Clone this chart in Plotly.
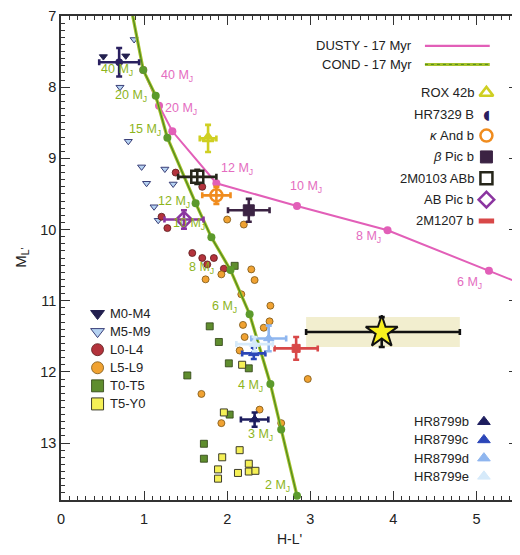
import plotly.graph_objects as go

# ---------------- data ----------------
# COND 17 Myr isochrone (first point lies above the plotted range)
cond_x = [0.83, 0.99, 1.14, 1.28, 1.62, 1.81, 2.04, 2.27, 2.52, 2.65, 2.84]
cond_y = [6.80, 7.76, 8.12, 8.71, 9.63, 10.11, 10.57, 11.19, 12.17, 12.81, 13.74]
cond_mass = [None, 40, 20, 15, 12, 10, 8, 6, 4, 3, 2]
cond_label_x = [0.67, 0.84, 1.01, 1.36, 1.54, 1.69, 1.97, 2.28, 2.40, 2.60]
cond_label_y = [7.76, 8.12, 8.60, 9.61, 9.92, 10.54, 11.09, 12.20, 12.88, 13.60]

# DUSTY 17 Myr isochrone
dusty_x = [0.83, 0.99, 1.18, 1.34, 1.87, 2.84, 3.93, 5.15, 5.75]
dusty_y = [6.80, 7.76, 8.26, 8.62, 9.35, 9.67, 10.01, 10.58, 10.86]
dusty_mass = [None, 40, 20, 15, 12, 10, 8, 6, None]
dusty_label_mass = [40, 20, 12, 10, 8, 6]
dusty_label_x = [1.40, 1.44, 2.12, 2.95, 3.70, 4.92]
dusty_label_y = [7.84, 8.30, 9.15, 9.40, 10.10, 10.75]

# field objects by spectral type
m0m4_x = [0.51, 0.78]
m0m4_y = [7.57, 7.56]
m5m9_x = [0.88, 0.71, 0.81, 0.97, 1.03, 1.25, 1.35, 1.12, 1.17]
m5m9_y = [7.33, 8.00, 8.76, 9.12, 9.35, 9.15, 9.36, 9.68, 9.87]
l0l4_x = [1.38, 1.70, 1.21, 1.28, 1.58, 1.70, 1.84, 1.76, 1.96]
l0l4_y = [9.20, 9.40, 9.82, 9.98, 10.33, 10.40, 10.40, 10.49, 10.55]
l5l9_x = [2.00, 2.20, 2.29, 1.74, 1.93, 2.33, 2.17, 2.52, 2.19, 2.51, 2.44, 2.21,
          2.15, 1.69, 2.97, 1.93, 2.39, 2.65]
l5l9_y = [9.86, 9.93, 10.56, 10.70, 10.63, 10.71, 10.91, 11.07, 11.34, 11.29, 11.38, 11.51,
          11.70, 12.31, 12.10, 12.72, 12.53, 12.72]
t0t5_x = [2.09, 1.79, 1.90, 1.52, 2.02, 2.26, 2.03, 1.72, 1.72]
t0t5_y = [10.51, 11.36, 11.58, 12.05, 11.88, 11.95, 12.60, 13.01, 13.22]
t5y0_x = [2.18, 1.96, 2.15, 1.94, 1.89, 1.89, 2.13, 2.26, 2.26, 2.34]
t5y0_y = [11.90, 12.57, 13.10, 13.20, 13.37, 13.50, 13.42, 13.29, 13.40, 13.39]

# named companions
obj_names = ["HR7329 B", "ROX 42b", "2M0103 ABb", "κ And b", "β Pic b", "AB Pic b",
             "2M1207 b", "HR8799b", "HR8799c", "HR8799d", "HR8799e"]
obj_x = [0.70, 1.77, 1.64, 1.87, 2.26, 1.48, 2.83, 2.33, 2.32, 2.50, 2.33]
obj_xerr = [0.24, 0.10, 0.23, 0.17, 0.25, 0.235, 0.26, 0.165, 0.14, 0.21, 0.22]
obj_y = [7.65, 8.72, 9.26, 9.52, 9.73, 9.86, 11.67, 12.67, 11.74, 11.53, 11.61]
obj_yerr = [0.20, 0.19, 0.10, 0.12, 0.16, 0.13, 0.16, 0.10, 0.08, 0.18, 0.10]

# new object (star)
star_x = [3.86]
star_xerr_minus = [0.91]
star_xerr_plus = [0.94]
star_y = [11.44]
star_yerr = [0.21]

# legend labels
field_names = ["M0-M4", "M5-M9", "L0-L4", "L5-L9", "T0-T5", "T5-Y0"]
line_names = ["DUSTY - 17 Myr", "COND - 17 Myr"]
named_legend = ["ROX 42b", "HR7329 B", "κ And b", "β Pic b", "2M0103 ABb", "AB Pic b", "2M1207 b"]
hr_legend = ["HR8799b", "HR8799c", "HR8799d", "HR8799e"]

# ---------------- styles ----------------
FONT = "Liberation Sans, Arial, Helvetica, sans-serif"
PINK = "#e25fb8"
PINK_TXT = "#e46cc0"
GREEN_OUT = "#a6c22c"
GREEN_IN = "#4f8a1f"
GREEN_DOT = "#5c9a2c"
GREEN_TXT = "#8db41c"

field_style = {
    "M0-M4": dict(symbol="triangle-down", color="#23204f", line=dict(color="#23204f", width=1)),
    "M5-M9": dict(symbol="triangle-down", color="#b5d2f2", line=dict(color="#3a3f78", width=1)),
    "L0-L4": dict(symbol="circle", color="#b3333c", line=dict(color="#5a1a1a", width=0.8)),
    "L5-L9": dict(symbol="circle", color="#f0a232", line=dict(color="#7a5414", width=0.8)),
    "T0-T5": dict(symbol="square", color="#5f8d2e", line=dict(color="#2c3f12", width=0.8)),
    "T5-Y0": dict(symbol="square", color="#f5f056", line=dict(color="#3c3c2a", width=1)),
}
field_data = {
    "M0-M4": (m0m4_x, m0m4_y), "M5-M9": (m5m9_x, m5m9_y), "L0-L4": (l0l4_x, l0l4_y),
    "L5-L9": (l5l9_x, l5l9_y), "T0-T5": (t0t5_x, t0t5_y), "T5-Y0": (t5y0_x, t5y0_y),
}
obj_style = {
    "HR7329 B": dict(symbol="circle", color="#2a2060", lc="#2a2060", size=7, lw=1),
    "ROX 42b": dict(symbol="triangle-up-open", color="#cfcf22", lc="#cfcf22", size=10, lw=2.5),
    "2M0103 ABb": dict(symbol="square-open", color="#26261a", lc="#26261a", size=12, lw=2.5),
    "κ And b": dict(symbol="circle-open", color="#f08c1e", lc="#f08c1e", size=12, lw=2.5),
    "β Pic b": dict(symbol="square", color="#3b2343", lc="#3b2343", size=11, lw=1),
    "AB Pic b": dict(symbol="diamond-open", color="#8b35a0", lc="#8b35a0", size=12, lw=2.5),
    "2M1207 b": dict(symbol="square", color="#d84848", lc="#d84848", size=8, lw=1),
    "HR8799b": dict(symbol="triangle-up", color="#1d1d5e", lc="#1d1d5e", size=9, lw=1),
    "HR8799c": dict(symbol="triangle-up", color="#2b46b8", lc="#2b46b8", size=9, lw=1),
    "HR8799d": dict(symbol="triangle-up", color="#8fb6ef", lc="#8fb6ef", size=9, lw=1),
    "HR8799e": dict(symbol="triangle-up", color="#d6eafa", lc="#d6eafa", size=9, lw=1),
}

fig = go.Figure()

# shaded band behind the star
fig.add_shape(type="rect", xref="x", yref="y",
              x0=star_x[0] - star_xerr_minus[0], x1=star_x[0] + star_xerr_plus[0],
              y0=star_y[0] - star_yerr[0], y1=star_y[0] + star_yerr[0],
              fillcolor="rgba(233,226,175,0.6)", line_width=0, layer="below")

# field objects
for name in field_names:
    xs, ys = field_data[name]
    st = field_style[name]
    fig.add_trace(go.Scatter(x=xs, y=ys, mode="markers", showlegend=False,
                             marker=dict(symbol=st["symbol"], color=st["color"], size=7,
                                         line=st["line"])))

# isochrones
fig.add_trace(go.Scatter(x=dusty_x, y=dusty_y, mode="lines", showlegend=False,
                         line=dict(color=PINK, width=2)))
fig.add_trace(go.Scatter(x=[x for x, m in zip(dusty_x, dusty_mass) if m],
                         y=[y for y, m in zip(dusty_y, dusty_mass) if m],
                         mode="markers", showlegend=False,
                         marker=dict(color=PINK, size=8)))
fig.add_trace(go.Scatter(x=cond_x, y=cond_y, mode="lines", showlegend=False,
                         line=dict(color=GREEN_OUT, width=3.2)))
fig.add_trace(go.Scatter(x=cond_x, y=cond_y, mode="lines", showlegend=False,
                         line=dict(color=GREEN_IN, width=1.2)))
fig.add_trace(go.Scatter(x=[x for x, m in zip(cond_x, cond_mass) if m],
                         y=[y for y, m in zip(cond_y, cond_mass) if m],
                         mode="markers", showlegend=False,
                         marker=dict(color=GREEN_DOT, size=8)))

annotations = []

# mass labels
for m, lx, ly in zip(cond_mass[1:], cond_label_x, cond_label_y):
    annotations.append(dict(x=lx, y=ly, xref="x", yref="y", text=f"{m} M<sub>J</sub>",
                            showarrow=False, xanchor="center", yanchor="middle",
                            font=dict(color=GREEN_TXT, size=12.5, family=FONT)))
for m, lx, ly in zip(dusty_label_mass, dusty_label_x, dusty_label_y):
    annotations.append(dict(x=lx, y=ly, xref="x", yref="y", text=f"{m} M<sub>J</sub>",
                            showarrow=False, xanchor="center", yanchor="middle",
                            font=dict(color=PINK_TXT, size=12.5, family=FONT)))

# named companions
for i, name in enumerate(obj_names):
    st = obj_style[name]
    fig.add_trace(go.Scatter(
        x=[obj_x[i]], y=[obj_y[i]], mode="markers", showlegend=False,
        error_x=dict(type="data", array=[obj_xerr[i]], color=st["lc"], thickness=2.6, width=3),
        error_y=dict(type="data", array=[obj_yerr[i]], color=st["lc"], thickness=2.6, width=3),
        marker=dict(symbol=st["symbol"], color=st["color"], size=st["size"],
                    line=dict(color=st["lc"], width=st["lw"]))))

# star
fig.add_trace(go.Scatter(
    x=star_x, y=star_y, mode="markers", showlegend=False,
    error_x=dict(type="data", symmetric=False, array=star_xerr_plus,
                 arrayminus=star_xerr_minus, color="#111", thickness=2.6, width=3),
    error_y=dict(type="data", array=star_yerr, color="#111", thickness=2.6, width=3),
    marker=dict(symbol="star", color="#f8f01e", size=24, line=dict(color="#111", width=2))))

# ---- left legend (field objects) ----
lx_sym, lx_txt, ly0, ldy = 0.44, 0.57, 11.18, 0.254
for i, name in enumerate(field_names):
    st = field_style[name]
    fig.add_trace(go.Scatter(x=[lx_sym], y=[ly0 + i * ldy], mode="markers", showlegend=False,
                             marker=dict(symbol=st["symbol"], color=st["color"], size=12,
                                         line=st["line"])))
    annotations.append(dict(x=lx_txt, y=ly0 + i * ldy, xref="x", yref="y", text=name,
                            showarrow=False, xanchor="left", yanchor="middle",
                            font=dict(size=13, family=FONT, color="#222")))

# ---- line legend ----
for i, (name, col) in enumerate(zip(line_names, [PINK, GREEN_OUT])):
    yy = 7.42 + i * 0.26
    fig.add_trace(go.Scatter(x=[4.38, 5.16], y=[yy, yy], mode="lines", showlegend=False,
                             line=dict(color=col, width=2.2 if i == 0 else 3)))
    if i == 1:
        fig.add_trace(go.Scatter(x=[4.38, 5.16], y=[yy, yy], mode="lines", showlegend=False,
                                 line=dict(color=GREEN_IN, width=1, dash="dot")))
    annotations.append(dict(x=4.25, y=yy, xref="x", yref="y", text=name, showarrow=False,
                            xanchor="right", yanchor="middle",
                            font=dict(size=13, family=FONT, color="#222")))

# ---- named legend ----
for i, name in enumerate(named_legend):
    yy = 8.08 + i * 0.30
    st = obj_style[name]
    label = name.replace("κ", "<i>κ</i>").replace("β", "<i>β</i>")
    annotations.append(dict(x=4.99, y=yy, xref="x", yref="y", text=label, showarrow=False,
                            xanchor="right", yanchor="middle",
                            font=dict(size=13, family=FONT, color="#222")))
    if name == "HR7329 B":
        annotations.append(dict(x=5.12, y=yy, xref="x", yref="y", text="◖", showarrow=False,
                                xanchor="center", yanchor="middle",
                                font=dict(size=13, family="DejaVu Sans", color=st["color"])))
    elif name == "2M1207 b":
        fig.add_trace(go.Scatter(x=[5.12], y=[yy], mode="markers", showlegend=False,
                                 marker=dict(symbol="line-ew", size=11,
                                             line=dict(color=st["color"], width=5))))
    else:
        fig.add_trace(go.Scatter(x=[5.12], y=[yy], mode="markers", showlegend=False,
                                 marker=dict(symbol=st["symbol"], color=st["color"], size=12,
                                             line=dict(color=st["lc"], width=2.5 if "open" in st["symbol"] else 1))))

# ---- HR8799 legend ----
for i, name in enumerate(hr_legend):
    yy = 12.70 + i * 0.256
    st = obj_style[name]
    annotations.append(dict(x=4.94, y=yy, xref="x", yref="y", text=name, showarrow=False,
                            xanchor="right", yanchor="middle",
                            font=dict(size=13, family=FONT, color="#222")))
    fig.add_trace(go.Scatter(x=[5.09], y=[yy], mode="markers", showlegend=False,
                             marker=dict(symbol="triangle-up", color=st["color"], size=11,
                                         line=dict(color=st["color"], width=1))))

# axis titles
annotations.append(dict(x=0.5, y=-0.08, xref="paper", yref="paper", text="H-L'",
                        showarrow=False, xanchor="center", yanchor="middle",
                        font=dict(size=14, family=FONT, color="#222")))
annotations.append(dict(x=-0.088, y=0.5, xref="paper", yref="paper", text="M<sub>L'</sub>",
                        showarrow=False, xanchor="center", yanchor="middle", textangle=-90,
                        font=dict(size=15, family=FONT, color="#222")))

axis_common = dict(showgrid=False, zeroline=False, showline=True, linecolor="#333",
                   linewidth=1.5, mirror="allticks", ticks="inside", ticklen=9,
                   tickwidth=1.2, tickcolor="#333", automargin=False,
                   ticklabeloverflow="allow",
                   tickfont=dict(size=14.5, family=FONT, color="#222"),
                   minor=dict(ticks="inside", ticklen=4, tickcolor="#333", tickwidth=1))

fig.update_layout(
    width=512, height=547,
    margin=dict(l=53, r=2, t=8, b=55),
    paper_bgcolor="white", plot_bgcolor="white",
    showlegend=False,
    annotations=annotations,
    xaxis=dict(range=[0, 5.5], tick0=0, dtick=1, ticklabelstandoff=5, **axis_common),
    yaxis=dict(range=[13.8, 7], tick0=7, dtick=1, **axis_common),
)
fig.update_xaxes(minor_dtick=0.1)
fig.update_yaxes(minor_dtick=0.1)

fig.write_html("out.html")
